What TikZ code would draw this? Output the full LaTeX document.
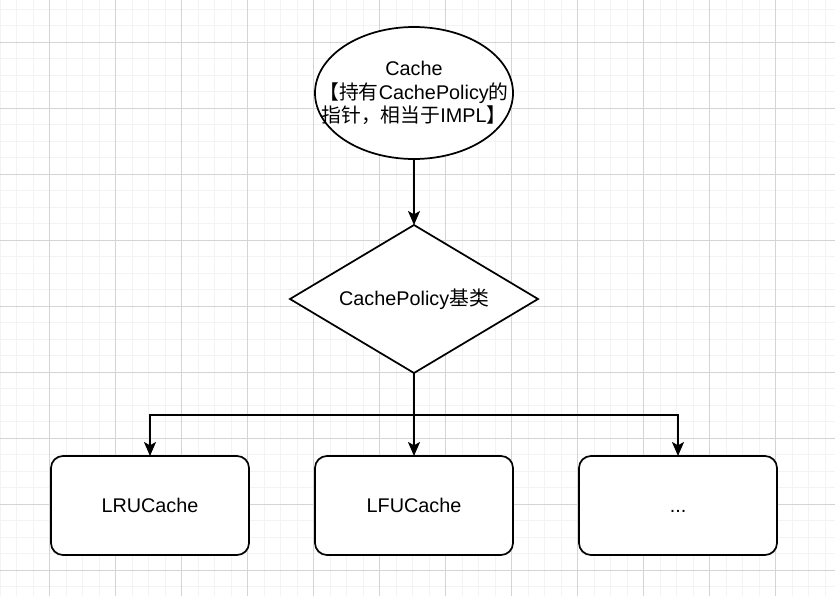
\documentclass[tikz,border=0pt]{standalone}
\usepackage{fontspec}
\setmainfont{Liberation Sans}
\newfontfamily\cjk{Noto Sans CJK SC}
\usetikzlibrary{shapes.geometric,arrows.meta}
\definecolor{gridmajor}{HTML}{D4D4D4}
\definecolor{gridminor}{HTML}{F3F3F3}
\tikzset{
  minorline/.style={draw=gridminor,line width=0.75pt},
  majorline/.style={draw=gridmajor,line width=0.75pt},
  shapeline/.style={draw=black,line width=1.3pt,fill=white,inner sep=0pt,outer sep=0pt},
  lbl/.style={font=\fontsize{14.85pt}{17.6pt}\selectfont,text=black,align=center,inner sep=0pt},
  ell/.style={shapeline,ellipse,minimum width=148.5pt,minimum height=99pt},
  dia/.style={shapeline,diamond,minimum width=186pt,minimum height=111pt},
  rbox/.style={shapeline,lbl,rectangle,rounded corners=9pt,minimum width=148.5pt,minimum height=74.25pt},
  arr/.style={draw=black,line width=1.3pt,-{Stealth[length=10.5pt,width=9pt,inset=2.5pt]}}
}
\begin{document}
\begin{tikzpicture}[x=0.75pt,y=-0.75pt]
\useasboundingbox (0,0) rectangle (835,596);
\fill[white] (0,0) rectangle (835,596);
\begin{scope}
\clip (0,0) rectangle (835,596);
\foreach \i in {0,...,52} {\draw[minorline] ({-16.5+16.5*\i},0) -- ({-16.5+16.5*\i},596);}
\foreach \i in {0,...,38} {\draw[minorline] (0,{-23.7+16.5*\i}) -- (835,{-23.7+16.5*\i});}
\foreach \i in {0,...,13} {\draw[majorline] ({-16.5+66*\i},0) -- ({-16.5+66*\i},596);}
\foreach \i in {0,...,10} {\draw[majorline] (0,{-23.7+66*\i}) -- (835,{-23.7+66*\i});}
\end{scope}

\node[ell,label={[lbl]center:Cache\\{\cjk 【持有}CachePolicy{\cjk 的}\\{\cjk 指针，相当于}IMPL{\cjk 】}}] (cache) at (414,93) {};
\node[dia,label={[lbl]center:CachePolicy{\cjk 基类}}] (policy) at (414,299) {};
\node[rbox] (lru) at (150,505.5) {LRUCache};
\node[rbox] (lfu) at (414,505.5) {LFUCache};
\node[rbox] (more) at (678,505.5) {\vphantom{LRUCache}...};
\coordinate (junc) at (414,414.7);

\draw[arr] (cache.south) -- (policy.north);
\draw[arr] (policy.south) -- (lfu.north);
\draw[arr] (junc) -| (lru.north);
\draw[arr] (junc) -| (more.north);
\end{tikzpicture}
\end{document}
